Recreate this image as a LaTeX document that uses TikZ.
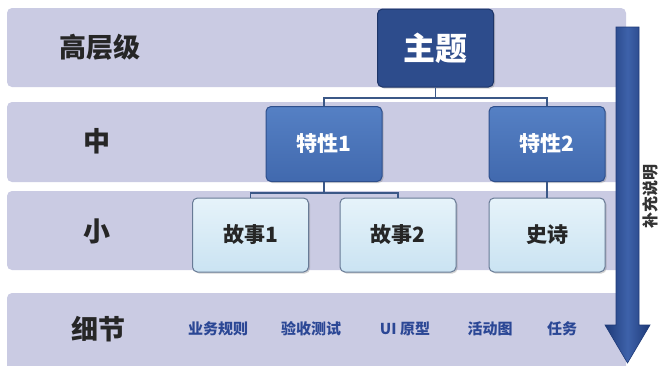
\documentclass[tikz,border=0pt]{standalone}
\usepackage{fontspec}
\setmainfont{Noto Sans CJK SC}
\usetikzlibrary{shadows}
\definecolor{bandc}{HTML}{CACBE3}
\definecolor{darkb}{HTML}{2D4C8C}
\definecolor{darkbd}{HTML}{1D3568}
\definecolor{midbt}{HTML}{5580C4}
\definecolor{midbb}{HTML}{4169AE}
\definecolor{midbd}{HTML}{2E4F8C}
\definecolor{lightbt}{HTML}{E6F3FA}
\definecolor{lightbb}{HTML}{CAE3F2}
\definecolor{lightbd}{HTML}{687B96}
\definecolor{connc}{HTML}{3B5887}
\definecolor{itemc}{HTML}{2B4795}
\definecolor{arrowe}{HTML}{1E3A78}
\definecolor{arrowm}{HTML}{3E62AA}
\tikzset{
  band/.style={fill=bandc, rounded corners=5pt, draw=none},
  lvl/.style={font=\bfseries\fontsize{27}{27}\selectfont, text=black!85},
  boxbase/.style={rounded corners=5pt, line width=1pt, inner sep=0pt, align=center,
    drop shadow={shadow xshift=1.5pt, shadow yshift=-1.5pt, opacity=0.35}},
  topbox/.style={boxbase, fill=darkb, draw=darkbd, text=white,
    minimum width=116pt, minimum height=78pt, font=\bfseries\fontsize{32}{32}\selectfont},
  featbox/.style={boxbase, top color=midbt, bottom color=midbb, draw=midbd, text=white,
    minimum width=116pt, minimum height=75pt, font=\bfseries\fontsize{21}{21}\selectfont},
  storybox/.style={boxbase, top color=lightbt, bottom color=lightbb, draw=lightbd, text=black!85,
    minimum width=116pt, minimum height=74pt, font=\bfseries\fontsize{21}{21}\selectfont},
  conn/.style={draw=connc, line width=1.4pt},
  item/.style={text=itemc, font=\bfseries\fontsize{15}{15}\selectfont},
}
\begin{document}
\begin{tikzpicture}[x=1pt, y=-1pt]
\useasboundingbox (0,0) rectangle (660,365);
\fill[white] (0,0) rectangle (660,365);
% bands
\path[band] (7,8) rectangle (626,87);
\path[band] (7,102) rectangle (626,182);
\path[band] (7,191) rectangle (626,270);
\path[band] (7,293) rectangle (626,372);
% level labels
\node[lvl] (l1) at (100,47) {高层级};
\node[lvl] (l2) at (97,141) {中};
\node[lvl] (l3) at (97,231) {小};
\node[lvl] (l4) at (98,329) {细节};
% boxes
\node[topbox] (theme) at (435.5,48) {主题};
\node[featbox] (f1) at (324,144) {特性1};
\node[featbox] (f2) at (547,144) {特性2};
\node[storybox] (s1) at (250.5,235) {故事1};
\node[storybox] (s2) at (398,235) {故事2};
\node[storybox] (ep) at (547,235) {史诗};
% connectors
\draw[conn] (theme.south) -- ++(0,10.5) -| (f1.north);
\draw[conn] (theme.south) -- ++(0,10.5) -| (f2.north);
\draw[conn] (f1.south) -- ++(0,11) -| (s1.north);
\draw[conn] (f1.south) -- ++(0,11) -| (s2.north);
\draw[conn] (f2.south) -- (ep.north);
% detail items
\node[item] (i1) at (218,329) {业务规则};
\node[item] (i2) at (311,329) {验收测试};
\node[item] (i3) at (405,329) {UI 原型};
\node[item] (i4) at (490,329) {活动图};
\node[item] (i5) at (562,329) {任务};
% big arrow
\shade[left color=arrowe, right color=arrowe, middle color=arrowm]
  (616,27) -- (639,27) -- (639,325) -- (650,325) -- (627.5,363) -- (605,325) -- (616,325) -- cycle;
\draw[arrowe, line width=0.6pt]
  (616,27) -- (639,27) -- (639,325) -- (650,325) -- (627.5,363) -- (605,325) -- (616,325) -- cycle;
% side note
\node[rotate=90, text=black!80, inner sep=0pt, font=\bfseries\fontsize{16}{16}\selectfont] (note) at (650.5,196) {补充说明};
\end{tikzpicture}
\end{document}
